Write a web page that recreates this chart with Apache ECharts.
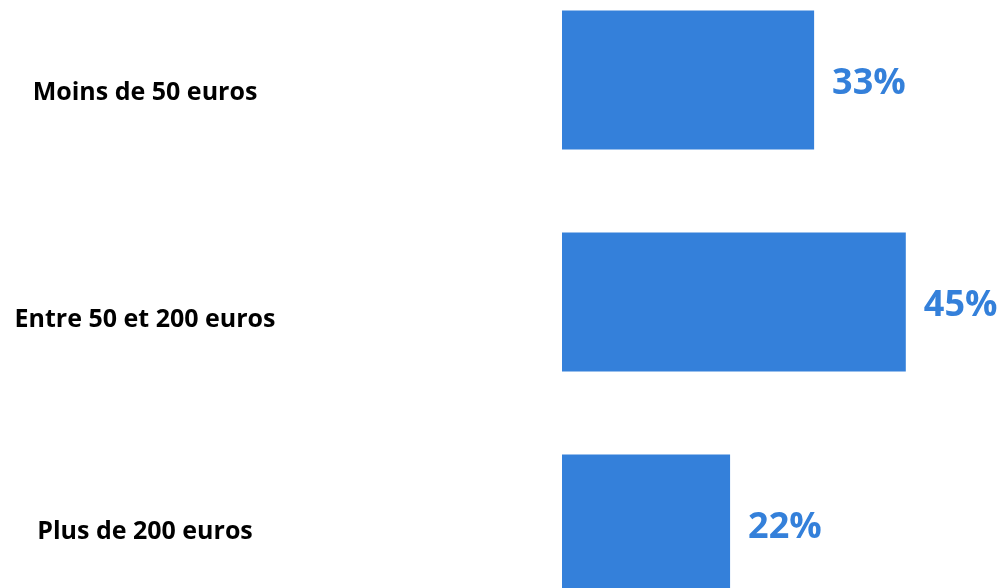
<!DOCTYPE html>
<html>
<head>
<meta charset="utf-8">
<style>
  html, body { margin: 0; padding: 0; background: #ffffff; }
  #chart { width: 1002px; height: 588px; }
</style>
<script src="https://cdn.jsdelivr.net/npm/echarts@6.0.0/dist/echarts.min.js"></script>
</head>
<body>
<div id="chart"></div>
<script>
// --- Data ---
const categories = ['Moins de 50 euros', 'Entre 50 et 200 euros', 'Plus de 200 euros'];
const shares = [33, 45, 22];

// --- Style ---
const BAR_COLOR = '#3480da';
const LABEL_FONT = '"Open Sans", "Noto Sans", sans-serif';
// small vertical nudges of the category labels, as in the source picture
const labelNudge = [13, 18, 8];

const richStyles = {};
labelNudge.forEach((n, i) => {
    richStyles['c' + i] = {
        padding: [n * 2, 0, 0, 0],
        color: '#000000',
        fontFamily: LABEL_FONT,
        fontWeight: 'bold',
        fontSize: 25
    };
});

const chart = echarts.init(document.getElementById('chart'));

const option = {
    animation: false,
    grid: {
        left: 562, top: -31, width: 382, height: 666,
        containLabel: false,
        outerBoundsMode: 'none'
    },
    xAxis: {
        type: 'value', min: 0, max: 50,
        show: false
    },
    yAxis: {
        type: 'category',
        inverse: true,
        data: categories,
        axisLine: { show: false },
        axisTick: { show: false },
        splitLine: { show: false },
        axisLabel: {
            align: 'center',
            margin: 417,
            formatter: (value, idx) => `{c${idx}|${value}}`,
            rich: richStyles
        }
    },
    series: [{
        type: 'bar',
        data: shares,
        barWidth: 139,
        itemStyle: { color: BAR_COLOR },
        label: {
            show: true,
            position: 'right',
            distance: 18,
            offset: [0, 4],
            formatter: '{c}%',
            color: BAR_COLOR,
            fontFamily: LABEL_FONT,
            fontWeight: 'bold',
            fontSize: 36
        }
    }]
};

chart.setOption(option);
</script>
</body>
</html>
